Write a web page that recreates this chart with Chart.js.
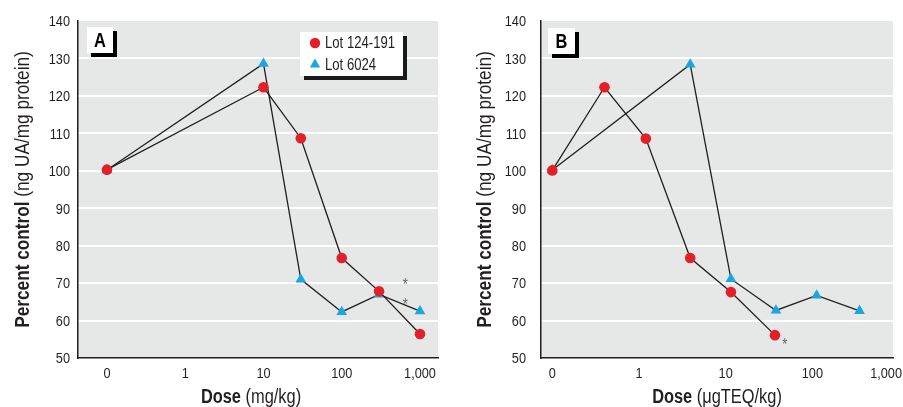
<!DOCTYPE html>
<html><head><meta charset="utf-8">
<script src="https://cdn.jsdelivr.net/npm/chart.js@4.4.1/dist/chart.umd.min.js"></script>
<style>
html,body{margin:0;padding:0;background:#fff;overflow:hidden;width:903px;height:407px}
#ca{position:absolute;left:0;top:0}
#cb{position:absolute;left:450px;top:0}
</style></head><body>
<canvas id="ca" width="450" height="407"></canvas>
<canvas id="cb" width="453" height="407"></canvas>
<script>
// ---------- data ----------
const seriesNames = ['Lot 124-191', 'Lot 6024'];
const xTickDoses = [0, 1, 10, 100, 1000];
const xTickLabels = ['0', '1', '10', '100', '1,000'];
const yMin = 50, yMax = 140, yStep = 10;

// Panel A: dose in mg/kg
const doseA_lot124191 = [0, 10, 30, 100, 300, 1000];
const valA_lot124191  = [100.3, 122.3, 108.7, 76.7, 67.8, 56.4];
const doseA_lot6024   = [0, 10, 30, 100, 300, 1000];
const valA_lot6024    = [100.2, 128.6, 71.0, 62.3, 67.0, 62.5];
const starDoseA = [650, 650];
const starValA  = [70.5, 65.0];

// Panel B: dose in µgTEQ/kg
const doseB_lot124191 = [0, 0.4, 1.2, 3.9, 11.5, 37];
const valB_lot124191  = [100.1, 122.3, 108.6, 76.7, 67.6, 56.1];
const doseB_lot6024   = [0, 3.9, 11.5, 38, 112, 350];
const valB_lot6024    = [100.2, 128.4, 71.1, 62.7, 66.7, 62.6];
const starDoseB = [48];
const starValB  = [54.5];

// ---------- styling ----------
const FONT = "'Liberation Sans', Arial, sans-serif";
const NARROW = 0.82;   // horizontal squeeze to imitate a condensed face
const TXT = '#231f20';
const RED = '#e3202a';
const BLUE = '#1aa6e0';
const BG = '#e6e7e7';
Chart.defaults.font.family = FONT;
Chart.defaults.color = TXT;

// dose axis: zero shown one decade below 1, then log decades
function pos(d) { return d === 0 ? 0 : Math.log10(d) + 1; }
function pts(doses, vals) { return doses.map((d, i) => ({ x: pos(d), y: vals[i] })); }

function txt(c, s, x, y, font, align, base, color) {
  c.save();
  c.font = font; c.fillStyle = color || TXT; c.textAlign = align; c.textBaseline = base;
  c.translate(x, y); c.scale(NARROW, 1); c.fillText(s, 0, 0);
  c.restore();
}
function tw(c, s, font) { c.save(); c.font = font; const w = c.measureText(s).width * NARROW; c.restore(); return w; }

const decor = {
  id: 'decor',
  beforeDraw(chart) {
    const a = chart.chartArea, c = chart.ctx;
    c.save(); c.fillStyle = BG; c.fillRect(a.left, a.top, a.right - a.left, a.bottom - a.top); c.restore();
  },
  afterDraw(chart, args, o) {
    const c = chart.ctx, a = chart.chartArea, xs = chart.scales.x, ys = chart.scales.y;
    const tickFont = '15.5px ' + FONT;
    // y tick labels
    for (let v = yMin; v <= yMax; v += yStep) {
      txt(c, String(v), a.left - o.yPad, ys.getPixelForValue(v) + 1, tickFont, 'right', 'middle');
    }
    // x tick labels
    xTickDoses.forEach((d, i) => {
      let px = xs.getPixelForValue(pos(d));
      const w = tw(c, xTickLabels[i], tickFont);
      if (px + w / 2 > chart.width - 1) px = chart.width - 1 - w / 2;
      txt(c, xTickLabels[i], px, a.bottom + 8, tickFont, 'center', 'top');
    });
    // y title (rotated)
    const bF = 'bold ' + o.titleSize + 'px ' + FONT, nF = o.titleSize + 'px ' + FONT;
    c.save();
    c.translate(o.yTitleX, (a.top + a.bottom) / 2);
    c.rotate(-Math.PI / 2);
    const wb = tw(c, o.yBold, bF), wn = tw(c, o.yNorm, nF);
    const sx = -(wb + wn) / 2;
    txt(c, o.yBold, sx, 0, bF, 'left', 'middle');
    txt(c, o.yNorm, sx + wb, 0, nF, 'left', 'middle');
    c.restore();
    // x title
    const xbF = 'bold ' + o.xTitleSize + 'px ' + FONT, xnF = o.xTitleSize + 'px ' + FONT;
    const xb = tw(c, o.xBold, xbF), xn = tw(c, o.xNorm, xnF);
    const tx = o.xTitleCX - (xb + xn) / 2;
    txt(c, o.xBold, tx, o.xTitleY, xbF, 'left', 'alphabetic');
    txt(c, o.xNorm, tx + xb, o.xTitleY, xnF, 'left', 'alphabetic');
    // asterisks
    o.stars.d.forEach((d, i) => {
      txt(c, '*', xs.getPixelForValue(pos(d)), ys.getPixelForValue(o.stars.v[i]) + 4, '16px ' + FONT, 'center', 'middle', '#666');
    });
    // panel letter box
    const L = o.letter;
    c.save();
    c.fillStyle = '#000'; c.fillRect(L.x + 4, L.y + 4, L.w, L.h);
    c.fillStyle = '#fff'; c.fillRect(L.x, L.y, L.w, L.h);
    c.restore();
    txt(c, L.t, L.x + L.w / 2, L.y + L.h / 2 + 1, 'bold 20px ' + FONT, 'center', 'middle', '#000');
    // legend
    if (o.legend) {
      const g = o.legend;
      c.save();
      c.fillStyle = '#1a1a1a'; c.fillRect(g.x + 4, g.y + 4, g.w, g.h);
      c.fillStyle = '#fff'; c.fillRect(g.x, g.y, g.w, g.h);
      chart.data.datasets.forEach((ds, i) => {
        const cy = g.y + 11 + i * 21.5, cx = g.x + 15;
        c.fillStyle = ds.backgroundColor;
        c.beginPath();
        if (ds.pointStyle === 'triangle') {
          const r = 6;
          c.moveTo(cx, cy - r); c.lineTo(cx + r * 0.866, cy + r * 0.5); c.lineTo(cx - r * 0.866, cy + r * 0.5);
          c.closePath();
        } else {
          c.arc(cx, cy, 5.2, 0, Math.PI * 2);
        }
        c.fill();
      });
      c.restore();
      chart.data.datasets.forEach((ds, i) => {
        txt(c, ds.label, g.x + 25, g.y + 12 + i * 21.5, '16px ' + FONT, 'left', 'middle');
      });
    }
  }
};

function makeChart(id, cfg) {
  return new Chart(document.getElementById(id), {
    type: 'scatter',
    data: {
      datasets: [
        { label: seriesNames[0], data: pts(cfg.d1, cfg.v1), showLine: true, borderColor: TXT, borderWidth: 1.3,
          backgroundColor: RED, pointBackgroundColor: RED, pointBorderWidth: 0, pointRadius: 5.3, pointStyle: 'circle' },
        { label: seriesNames[1], data: pts(cfg.d2, cfg.v2), showLine: true, borderColor: TXT, borderWidth: 1.3,
          backgroundColor: BLUE, pointBackgroundColor: BLUE, pointBorderWidth: 0, pointRadius: 6.2, pointStyle: 'triangle' }
      ]
    },
    options: {
      responsive: false, animation: false, devicePixelRatio: 1,
      layout: { padding: { top: 21, right: cfg.padRight, left: 0, bottom: 0 } },
      plugins: { legend: { display: false }, tooltip: { enabled: false }, decor: cfg.decor },
      scales: {
        x: {
          type: 'linear', min: cfg.xMin, max: cfg.xMax,
          afterBuildTicks: s => { s.ticks = xTickDoses.map(d => ({ value: pos(d) })).filter(t => t.value <= cfg.xMax); },
          afterFit: s => { s.height = 49; },
          ticks: { display: false },
          grid: { display: false, drawTicks: false },
          border: { display: true, color: TXT, width: 1.5 }
        },
        y: {
          min: yMin, max: yMax,
          afterFit: s => { s.width = cfg.yWidth; },
          ticks: { stepSize: yStep, display: false },
          grid: { drawTicks: false, lineWidth: 2, color: c => (c.tick && (c.tick.value === yMax || c.tick.value === yMin)) ? 'rgba(0,0,0,0)' : '#ffffff' },
          border: { display: true, color: TXT, width: 1.5 }
        }
      }
    },
    plugins: [decor]
  });
}

makeChart('ca', {
  d1: doseA_lot124191, v1: valA_lot124191, d2: doseA_lot6024, v2: valA_lot6024,
  xMin: -0.37, xMax: 4.23, padRight: 12, yWidth: 78,
  decor: {
    yPad: 8, yTitleX: 23, yBold: 'Percent control', yNorm: ' (ng UA/mg protein)', titleSize: 21,
    xTitleSize: 20, xTitleCX: 251, xTitleY: 403, xBold: 'Dose', xNorm: ' (mg/kg)',
    stars: { d: starDoseA, v: starValA },
    letter: { x: 87, y: 27, w: 26, h: 26, t: 'A' },
    legend: { x: 300, y: 32, w: 103, h: 44 }
  }
});
makeChart('cb', {
  d1: doseB_lot124191, v1: valB_lot124191, d2: doseB_lot6024, v2: valB_lot6024,
  xMin: -0.13, xMax: 3.93, padRight: 10, yWidth: 91,
  decor: {
    yPad: 15, yTitleX: 35, yBold: 'Percent control', yNorm: ' (ng UA/mg protein)', titleSize: 21,
    xTitleSize: 20, xTitleCX: 267, xTitleY: 403, xBold: 'Dose', xNorm: ' (\u03bcgTEQ/kg)',
    stars: { d: starDoseB, v: starValB },
    letter: { x: 98, y: 28, w: 27, h: 26, t: 'B' },
    legend: null
  }
});
</script>
</body></html>
